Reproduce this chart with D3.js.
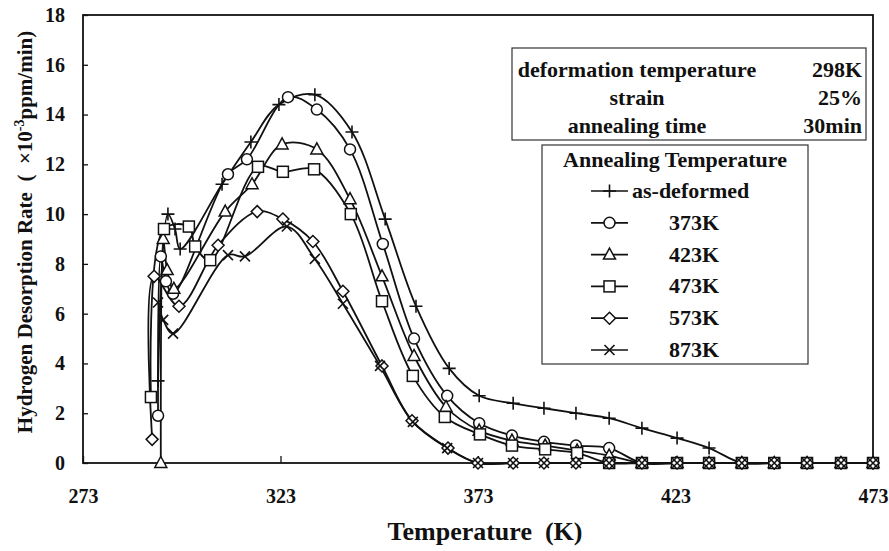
<!DOCTYPE html>
<html>
<head>
<meta charset="utf-8">
<script src="https://cdn.jsdelivr.net/npm/d3@7"></script>
<style>
  body { margin: 0; background: #fff; }
  svg text { font-family: "Liberation Serif", "Times New Roman", serif; font-weight: bold; fill: #111; white-space: pre; }
</style>
</head>
<body>
<svg id="chart"></svg>
<script>
// tick values
var xTicks = [273, 323, 373, 423, 473]
var yTicks = [0, 2, 4, 6, 8, 10, 12, 14, 16, 18]

// series: [temperature K, rate x10^-3 ppm/min]
var asDeformed = [[292.0,3.3],[294.5,10.0],[296.3,9.4],[297.6,8.6],[308.2,11.2],[315.5,12.9],[322.6,14.4],[331.7,14.8],[341.1,13.3],[349.5,9.8],[357.3,6.3],[365.7,3.8],[373.3,2.7],[381.9,2.4],[389.7,2.2],[397.8,2.0],[406.2,1.8],[414.5,1.4],[423.4,1.0],[431.5,0.6],[439.8,0],[448.0,0],[456.3,0],[464.9,0],[473.0,0]]
var k373 = [[292.0,1.9],[292.7,8.3],[294.0,7.3],[295.8,6.8],[309.7,11.6],[314.5,12.2],[324.9,14.7],[332.2,14.2],[340.6,12.6],[348.9,8.8],[356.8,5.0],[365.2,2.7],[373.3,1.6],[381.6,1.1],[389.7,0.85],[397.8,0.7],[406.2,0.6],[414.5,0],[423.4,0],[431.5,0],[439.8,0],[448.0,0],[456.3,0],[464.9,0],[473.0,0]]
var k423 = [[292.7,0],[293.3,9.0],[294.3,7.75],[296.0,7.0],[309.0,10.1],[315.8,11.2],[323.4,12.8],[332.2,12.6],[340.6,10.6],[348.7,7.5],[356.8,4.3],[364.9,2.25],[373.3,1.3],[381.6,0.9],[390.0,0.7],[398.1,0.5],[406.2,0.3],[414.5,0],[423.4,0],[431.5,0],[439.8,0],[448.0,0],[456.3,0],[464.9,0],[473.0,0]]
var k473 = [[290.2,2.65],[293.5,9.4],[299.8,9.5],[301.4,8.7],[305.2,8.15],[317.3,11.9],[323.6,11.7],[331.5,11.8],[340.8,10.0],[348.7,6.5],[356.5,3.5],[364.6,1.85],[373.5,1.15],[381.6,0.7],[390.0,0.55],[398.1,0.4],[406.2,0],[414.5,0],[423.4,0],[431.5,0],[439.8,0],[448.0,0],[456.3,0],[464.9,0],[473.0,0]]
var k573 = [[290.5,0.95],[291.0,7.5],[297.3,6.3],[307.2,8.75],[317.1,10.1],[323.6,9.8],[331.2,8.9],[338.8,6.9],[348.7,3.9],[356.3,1.7],[365.4,0.6],[373.0,0],[381.9,0],[389.7,0],[397.8,0],[406.2,0],[414.5,0],[423.4,0],[431.5,0],[439.8,0],[448.0,0],[456.3,0],[464.9,0],[473.0,0]]
var k873 = [[292.0,6.45],[293.3,5.75],[295.8,5.2],[309.7,8.35],[314.0,8.3],[324.6,9.5],[331.7,8.2],[338.8,6.4],[348.2,3.9],[356.5,1.65],[365.2,0.6],[373.0,0],[381.9,0],[389.7,0],[397.8,0],[406.2,0],[414.5,0],[423.4,0],[431.5,0],[439.8,0],[448.0,0],[456.3,0],[464.9,0],[473.0,0]]

var seriesNames = ["as-deformed", "373K", "423K", "473K", "573K", "873K"]
var seriesData = [asDeformed, k373, k423, k473, k573, k873]
var markerTypes = ["plus", "circle", "triangle", "square", "diamond", "cross"]

var infoLabels = ["deformation temperature", "strain", "annealing time"]
var infoValues = ["298K", "25%", "30min"]
var legendTitle = "Annealing Temperature"

var dimensions = {
  width: 889,
  height: 551,
  margin: { top: 15, bottom: 88, right: 16, left: 83 }
}

var svg = d3.select("#chart")
  .attr("width", dimensions.width)
  .attr("height", dimensions.height)

var xScale = d3.scaleLinear()
  .domain([273, 473])
  .range([dimensions.margin.left, dimensions.width - dimensions.margin.right])

var yScale = d3.scaleLinear()
  .domain([0, 18])
  .range([dimensions.height - dimensions.margin.bottom, dimensions.margin.top])

// frame
svg.append("rect")
  .attr("x", xScale(273)).attr("y", yScale(18))
  .attr("width", xScale(473) - xScale(273))
  .attr("height", yScale(0) - yScale(18))
  .attr("fill", "none").attr("stroke", "#111").attr("stroke-width", 1.8)

// axes, ticks pointing inside
var xAxisGen = d3.axisBottom(xScale).tickValues(xTicks).tickSizeInner(-7).tickSizeOuter(0).tickPadding(26).tickFormat(d3.format("d"))
var xAxis = svg.append("g")
  .attr("transform", `translate(0,${yScale(0)})`)
  .call(xAxisGen)

var yAxisGen = d3.axisLeft(yScale).tickValues(yTicks).tickSizeInner(-5).tickSizeOuter(0).tickPadding(18)
var yAxis = svg.append("g")
  .attr("transform", `translate(${xScale(273)},0)`)
  .call(yAxisGen)

svg.selectAll(".domain").remove()
svg.selectAll(".tick line").attr("stroke", "#111").attr("stroke-width", 1.3)
svg.selectAll(".tick text").style("font-size", "20px").attr("fill", "#111")

// axis titles
svg.append("text")
  .attr("x", 485).attr("y", 540)
  .attr("text-anchor", "middle")
  .style("font-size", "26px")
  .text("Temperature  (K)")

var yTitle = svg.append("text")
  .attr("transform", "translate(32,232) rotate(-90)")
  .attr("text-anchor", "middle")
  .style("font-size", "21px")
yTitle.append("tspan").text("Hydrogen Desorption Rate  (  \u00d710")
yTitle.append("tspan").attr("dy", -8).style("font-size", "14px").text("-3")
yTitle.append("tspan").attr("dy", 8).text("ppm/min)")

// marker drawing
function drawMarker(sel, type) {
  if (type == "circle") {
    sel.append("circle").attr("r", 5.5).attr("fill", "#fff").attr("stroke", "#111").attr("stroke-width", 1.5)
  } else if (type == "square") {
    sel.append("rect").attr("x", -5.5).attr("y", -5.5).attr("width", 11).attr("height", 11)
      .attr("fill", "#fff").attr("stroke", "#111").attr("stroke-width", 1.5)
  } else if (type == "triangle") {
    sel.append("path").attr("d", "M0,-6.5L6,4.5L-6,4.5Z").attr("fill", "#fff").attr("stroke", "#111").attr("stroke-width", 1.5)
  } else if (type == "diamond") {
    sel.append("path").attr("d", "M0,-6L6,0L0,6L-6,0Z").attr("fill", "#fff").attr("stroke", "#111").attr("stroke-width", 1.5)
  } else if (type == "plus") {
    sel.append("path").attr("d", "M-6.5,0H6.5M0,-6.5V6.5").attr("fill", "none").attr("stroke", "#111").attr("stroke-width", 1.6)
  } else if (type == "cross") {
    sel.append("path").attr("d", "M-5,-5L5,5M-5,5L5,-5").attr("fill", "none").attr("stroke", "#111").attr("stroke-width", 1.6)
  }
}

var lineGen = d3.line()
  .x(d => xScale(d[0]))
  .y(d => yScale(d[1]))
  .curve(d3.curveCatmullRom.alpha(0.5))

var plot = svg.append("g")

seriesData.forEach(function(data, i) {
  plot.append("path")
    .datum(data)
    .attr("d", lineGen)
    .attr("fill", "none")
    .attr("stroke", "#111")
    .attr("stroke-width", 1.8)
})

seriesData.forEach(function(data, i) {
  plot.append("g").selectAll("g")
    .data(data)
    .enter()
    .append("g")
    .attr("transform", d => `translate(${xScale(d[0])},${yScale(d[1])})`)
    .each(function() { drawMarker(d3.select(this), markerTypes[i]) })
})

// info box
var info = svg.append("g")
info.append("rect")
  .attr("x", 512).attr("y", 48).attr("width", 354).attr("height", 92)
  .attr("fill", "#fff").attr("stroke", "#333").attr("stroke-width", 1.2)
info.selectAll(".lab")
  .data(infoLabels)
  .enter()
  .append("text")
  .attr("x", 637)
  .attr("y", (d, i) => 77 + i * 28)
  .attr("text-anchor", "middle")
  .style("font-size", "22px")
  .text(d => d)
info.selectAll(".val")
  .data(infoValues)
  .enter()
  .append("text")
  .attr("x", 862)
  .attr("y", (d, i) => 77 + i * 28)
  .attr("text-anchor", "end")
  .style("font-size", "22px")
  .text(d => d)

// legend
var legend = svg.append("g")
legend.append("rect")
  .attr("x", 542).attr("y", 145).attr("width", 266).attr("height", 219)
  .attr("fill", "#fff").attr("stroke", "#333").attr("stroke-width", 1.2)
legend.append("text")
  .attr("x", 675).attr("y", 167)
  .attr("text-anchor", "middle")
  .style("font-size", "22px")
  .text(legendTitle)

seriesNames.forEach(function(name, i) {
  var yy = 191 + i * 31.8
  legend.append("line")
    .attr("x1", 591).attr("x2", 628).attr("y1", yy).attr("y2", yy)
    .attr("stroke", "#111").attr("stroke-width", 1.7)
  var m = legend.append("g").attr("transform", `translate(609.5,${yy})`)
  drawMarker(m, markerTypes[i])
  legend.append("text")
    .attr("x", i == 0 ? 632 : 669)
    .attr("y", yy + 7)
    .style("font-size", "22px")
    .text(name)
})
</script>
</body>
</html>
